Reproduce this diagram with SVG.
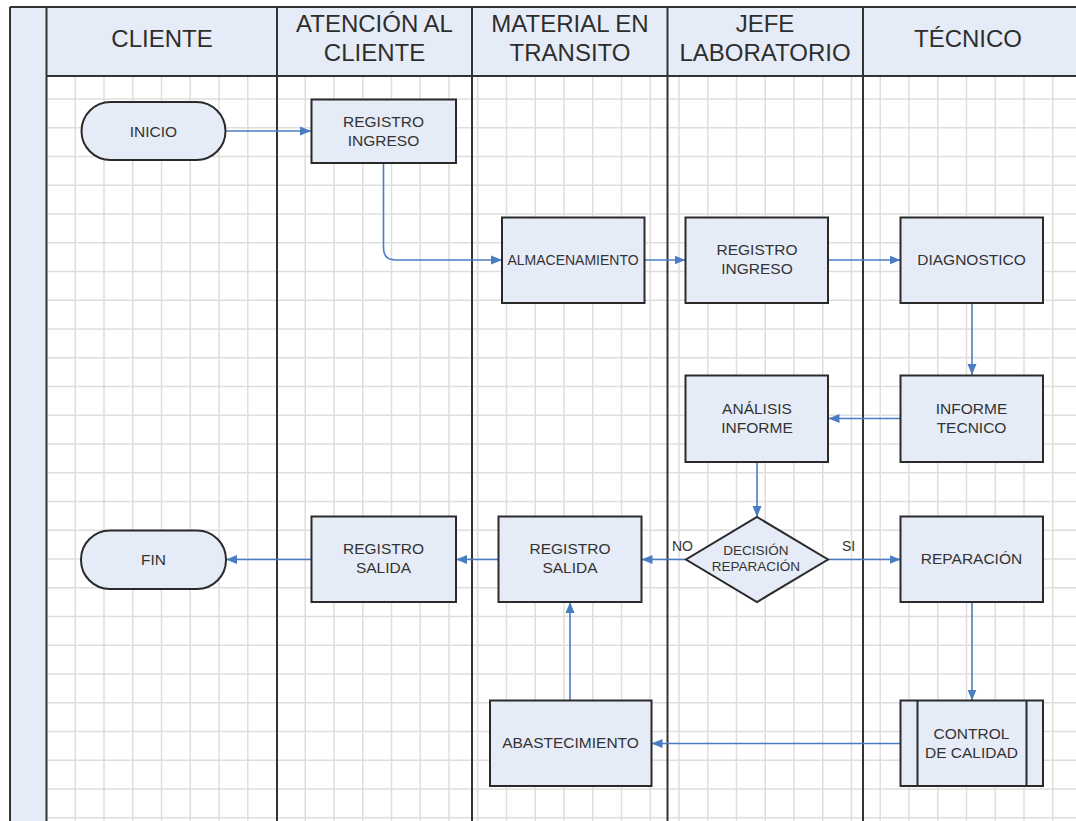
<svg xmlns="http://www.w3.org/2000/svg" width="1076" height="821" viewBox="0 0 1076 821">
<style>
.bg{fill:#ffffff}
.grid{fill:none;stroke:#dedede;stroke-width:1.5}
.hdr{fill:#e6ecf7}
.lane{fill:none;stroke:#333333;stroke-width:2}
.hdrtxt{font-family:"Liberation Sans",Arial,sans-serif;font-size:24px;fill:#2e2e2e;text-anchor:middle}
.box{fill:#e6ecf7;stroke:#2a2a2a;stroke-width:2}
.txt{font-family:"Liberation Sans",Arial,sans-serif;font-size:15.5px;fill:#333333;text-anchor:middle}
.sm{font-size:14px}
.dec{font-size:13.5px}
.lbl{font-family:"Liberation Sans",Arial,sans-serif;font-size:14px;fill:#333333}
.conn{fill:none;stroke:#4a7cc3;stroke-width:1.6}
</style>
<defs>
<marker id="arr" markerUnits="userSpaceOnUse" markerWidth="12" markerHeight="10" refX="11" refY="5" orient="auto">
<path d="M0,0.5 L11,5 L0,9.5 z" fill="#4a7cc3"/>
</marker>
</defs>
<rect class="bg" x="0" y="0" width="1076" height="821"/>
<g id="grid">
<path class="grid" d="M75.25,76V821M104,76V821M132.75,76V821M161.5,76V821M190.25,76V821M219,76V821M247.75,76V821M305.25,76V821M334,76V821M362.75,76V821M391.5,76V821M420.25,76V821M449,76V821M477.75,76V821M506.5,76V821M535.25,76V821M564,76V821M592.75,76V821M621.5,76V821M650.25,76V821M679,76V821M707.75,76V821M736.5,76V821M765.25,76V821M794,76V821M822.75,76V821M851.5,76V821M880.25,76V821M909,76V821M937.75,76V821M966.5,76V821M995.25,76V821M1024,76V821M1052.75,76V821
M46.5,99H1076M46.5,127.75H1076M46.5,156.5H1076M46.5,185.25H1076M46.5,214H1076M46.5,242.75H1076M46.5,271.5H1076M46.5,300.25H1076M46.5,329H1076M46.5,357.75H1076M46.5,386.5H1076M46.5,415.25H1076M46.5,444H1076M46.5,472.75H1076M46.5,501.5H1076M46.5,530.25H1076M46.5,559H1076M46.5,587.75H1076M46.5,616.5H1076M46.5,645.25H1076M46.5,674H1076M46.5,702.75H1076M46.5,731.5H1076M46.5,760.25H1076M46.5,789H1076M46.5,817.75H1076"/>
</g>
<g id="lanes">
<rect class="hdr" x="10" y="7" width="1066" height="69"/>
<rect class="hdr" x="10" y="7" width="36.5" height="814"/>
<path class="lane" d="M10,7H1076M46.5,76H1076M10,7V821M46.5,7V821M277,7V821M472,7V821M667.5,7V821M863,7V821"/>
<text class="hdrtxt" x="162" y="47">CLIENTE</text>
<text class="hdrtxt" x="374.5" y="32">ATENCIÓN AL</text>
<text class="hdrtxt" x="374.5" y="61">CLIENTE</text>
<text class="hdrtxt" x="570" y="32">MATERIAL EN</text>
<text class="hdrtxt" x="570" y="61">TRANSITO</text>
<text class="hdrtxt" x="765" y="32">JEFE</text>
<text class="hdrtxt" x="765" y="61">LABORATORIO</text>
<text class="hdrtxt" x="968" y="47">TÉCNICO</text>
</g>
<g id="connectors">
<path class="conn" d="M226,131H311" marker-end="url(#arr)"/>
<path class="conn" d="M383.5,163V248Q383.5,260 395.5,260H502" marker-end="url(#arr)"/>
<path class="conn" d="M644,260H685.5" marker-end="url(#arr)"/>
<path class="conn" d="M828,260H900.5" marker-end="url(#arr)"/>
<path class="conn" d="M972,303V375" marker-end="url(#arr)"/>
<path class="conn" d="M900.5,418.5H828.5" marker-end="url(#arr)"/>
<path class="conn" d="M757,462V517" marker-end="url(#arr)"/>
<path class="conn" d="M828,559.5H900.5" marker-end="url(#arr)"/>
<path class="conn" d="M686,559.5H641.5" marker-end="url(#arr)"/>
<path class="conn" d="M498.5,559.5H456" marker-end="url(#arr)"/>
<path class="conn" d="M311.5,559.5H226" marker-end="url(#arr)"/>
<path class="conn" d="M972,602V700.5" marker-end="url(#arr)"/>
<path class="conn" d="M900.5,743.5H651.5" marker-end="url(#arr)"/>
<path class="conn" d="M570,700.5V602" marker-end="url(#arr)"/>
<text class="lbl" x="672" y="551">NO</text>
<text class="lbl" x="842" y="551">SI</text>
</g>
<g id="inicio">
<rect class="box" x="81.5" y="102" width="144" height="58" rx="29" ry="29"/>
<text class="txt" x="153.5" y="136.5">INICIO</text>
</g>
<g id="registro-ingreso-atencion">
<rect class="box" x="311.5" y="99.5" width="144.5" height="63.5"/>
<text class="txt" x="383.5" y="126.5">REGISTRO</text>
<text class="txt" x="383.5" y="145.5">INGRESO</text>
</g>
<g id="almacenamiento">
<rect class="box" x="502" y="217.5" width="142.5" height="85.5"/>
<text class="txt sm" x="573" y="265">ALMACENAMIENTO</text>
</g>
<g id="registro-ingreso-jefe">
<rect class="box" x="685.5" y="217.5" width="142.5" height="85.5"/>
<text class="txt" x="757" y="255">REGISTRO</text>
<text class="txt" x="757" y="274">INGRESO</text>
</g>
<g id="diagnostico">
<rect class="box" x="900.5" y="217.5" width="142.5" height="85.5"/>
<text class="txt" x="971.5" y="264.5">DIAGNOSTICO</text>
</g>
<g id="informe-tecnico">
<rect class="box" x="900.5" y="375.5" width="142.5" height="86.5"/>
<text class="txt" x="971.5" y="413.5">INFORME</text>
<text class="txt" x="971.5" y="432.5">TECNICO</text>
</g>
<g id="analisis-informe">
<rect class="box" x="685.5" y="375.5" width="142.5" height="86.5"/>
<text class="txt" x="757" y="413.5">ANÁLISIS</text>
<text class="txt" x="757" y="432.5">INFORME</text>
</g>
<g id="decision-reparacion">
<polygon class="box" points="757,517 828,559.5 757,602 686,559.5"/>
<text class="txt dec" x="756" y="555">DECISIÓN</text>
<text class="txt dec" x="756" y="571">REPARACIÓN</text>
</g>
<g id="reparacion">
<rect class="box" x="900.5" y="516.5" width="142.5" height="85.5"/>
<text class="txt" x="971.5" y="563.5">REPARACIÓN</text>
</g>
<g id="registro-salida-material">
<rect class="box" x="498.5" y="516.5" width="143" height="85.5"/>
<text class="txt" x="570" y="553.5">REGISTRO</text>
<text class="txt" x="570" y="573">SALIDA</text>
</g>
<g id="registro-salida-atencion">
<rect class="box" x="311.5" y="516.5" width="144.5" height="85.5"/>
<text class="txt" x="383.5" y="553.5">REGISTRO</text>
<text class="txt" x="383.5" y="573">SALIDA</text>
</g>
<g id="fin">
<rect class="box" x="81" y="530.5" width="145" height="58.5" rx="29" ry="29"/>
<text class="txt" x="153.5" y="565">FIN</text>
</g>
<g id="abastecimiento">
<rect class="box" x="490" y="700.5" width="161.5" height="85.5"/>
<text class="txt" x="570.5" y="748">ABASTECIMIENTO</text>
</g>
<g id="control-calidad">
<rect class="box" x="900.5" y="700.5" width="142.5" height="85.5"/>
<path class="box" d="M917.5,700.5V786M1026.5,700.5V786"/>
<text class="txt" x="971.5" y="738.5">CONTROL</text>
<text class="txt" x="971.5" y="757.5">DE CALIDAD</text>
</g>
</svg>
